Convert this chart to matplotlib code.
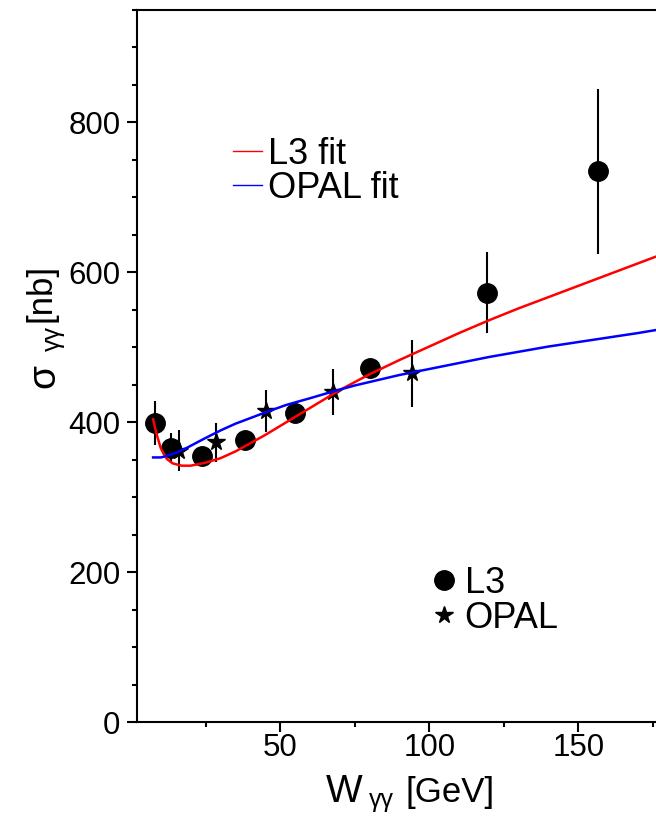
import numpy as np
import matplotlib
matplotlib.use('Agg')
import matplotlib.pyplot as plt
from matplotlib.lines import Line2D
from matplotlib.ticker import MultipleLocator

plt.rcParams['font.family'] = ['Liberation Sans', 'DejaVu Sans']

# L3 data points
l3_w = [8.1, 13.4, 23.7, 38.3, 55.0, 80.0, 119.5, 156.7]
l3_sig = [399, 366, 355, 376, 412, 472, 573, 735]
l3_err = [29, 20, 12, 10, 10, 12, 54, 110]

# OPAL data points
opal_w = [16.0, 28.4, 45.2, 67.7, 94.2]
opal_sig = [362, 373, 415, 440, 465]
opal_err = [27, 26, 28, 31, 45]

# fit curves
l3fit_w = [7.4, 8.5, 10, 12, 14, 17, 20, 25, 30, 35, 40, 45, 50, 55, 60, 65, 70,
           80, 90, 100, 110, 120, 130, 140, 150, 160, 170, 176]
l3fit_sig = [404, 385, 365, 351, 345, 342, 342, 346, 352, 361, 372, 383, 395, 407,
             419, 431, 443, 464, 483, 501, 519, 536, 552, 567, 582, 597, 612, 621]
opalfit_w = [7.4, 10, 12, 15, 18.8, 25, 30, 35, 41, 45, 52, 60, 67.7, 75, 90,
             100, 110, 120, 130, 140, 150, 160, 170, 176]
opalfit_sig = [353, 353, 355, 359, 366, 379, 389, 398, 407, 413, 423, 432, 441,
               449, 463, 471, 479, 487, 494, 501, 507, 513, 519, 523]

W, H = 656, 819
fig = plt.figure(figsize=(W / 100, H / 100), dpi=100)
ax = fig.add_axes([137 / W, 1 - 722 / H, (W - 137) / W, (722 - 10) / H])

ax.errorbar(l3_w, l3_sig, yerr=l3_err, fmt='o', color='black', ms=14,
            elinewidth=1.5, capsize=0, zorder=2)
ax.errorbar(opal_w, opal_sig, yerr=opal_err, fmt='*', color='black', ms=13,
            elinewidth=1.5, capsize=0, zorder=2)
ax.plot(l3fit_w, l3fit_sig, color='red', lw=1.8, zorder=3)
ax.plot(opalfit_w, opalfit_sig, color='blue', lw=1.8, zorder=3)

ax.set_xlim(2, 176)
ax.set_ylim(0, 950)
ax.xaxis.set_major_locator(MultipleLocator(50))
ax.xaxis.set_minor_locator(MultipleLocator(25))
ax.yaxis.set_major_locator(MultipleLocator(200))
ax.yaxis.set_minor_locator(MultipleLocator(50))
ax.tick_params(which='both', direction='out', width=1.5, labelsize=22.5)
ax.tick_params(which='major', length=7)
ax.tick_params(which='minor', length=3.5)
ax.tick_params(axis='y', pad=5)
ax.tick_params(axis='x', pad=1)
for s in ['left', 'bottom', 'top']:
    ax.spines[s].set_linewidth(1.5)
ax.spines['right'].set_visible(False)

# legends
fit_handles = [Line2D([], [], color='red', lw=1), Line2D([], [], color='blue', lw=1)]
leg1 = ax.legend(fit_handles, ['L3 fit', 'OPAL fit'], loc='upper left',
                 bbox_to_anchor=(0.185, 0.822), frameon=False, fontsize=26,
                 handlelength=0.8, handletextpad=0.17, labelspacing=-0.02,
                 borderpad=0, borderaxespad=0)
ax.add_artist(leg1)
pt_handles = [Line2D([], [], marker='o', color='black', ls='none', ms=14),
              Line2D([], [], marker='*', color='black', ls='none', ms=13)]
ax.legend(pt_handles, ['L3', 'OPAL'], loc='upper left',
          bbox_to_anchor=(0.570, 0.219), frameon=False, fontsize=26,
          handlelength=0.6, handletextpad=0.28, labelspacing=0.0,
          borderpad=0, borderaxespad=0)

# axis titles with gamma-gamma subscript
fig.text(326 / W, 1 - 802 / H, 'W', fontsize=28, ha='left', va='baseline')
fig.text(369 / W, 1 - 807 / H, 'γγ', fontsize=18, ha='left', va='baseline')
fig.text(405 / W, 1 - 802 / H, '[GeV]', fontsize=25, ha='left', va='baseline')

fig.text(54 / W, 1 - 388 / H, 'σ', fontsize=28, rotation=90,
         rotation_mode='anchor', ha='left', va='baseline')
fig.text(60 / W, 1 - 351 / H, 'γγ', fontsize=18, rotation=90,
         rotation_mode='anchor', ha='left', va='baseline')
fig.text(50 / W, 1 - 322 / H, '[nb]', fontsize=25, rotation=90,
         rotation_mode='anchor', ha='left', va='baseline')

fig.savefig('out.png', dpi=100)
